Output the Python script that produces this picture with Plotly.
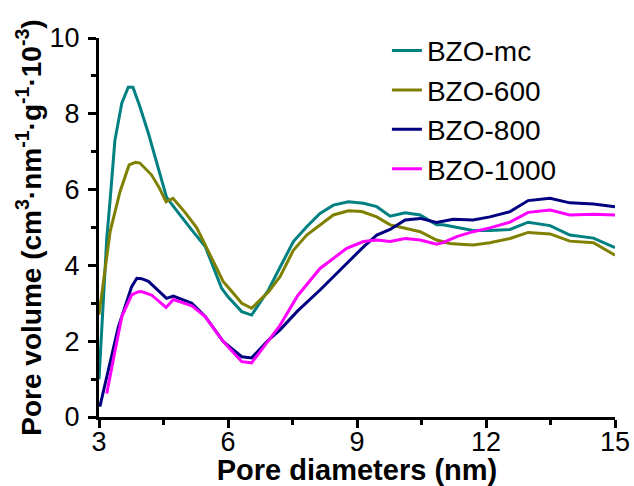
import plotly.graph_objects as go

# ---- data ----
mc_x = [3.0, 3.18, 3.26, 3.37, 3.53, 3.68, 3.79, 3.95, 4.15, 4.57, 4.77, 5.0, 5.16, 5.47, 5.85, 6.0, 6.32, 6.55, 6.94, 7.21, 7.52, 7.83, 8.14, 8.45, 8.8, 9.15, 9.46, 9.77, 10.12, 10.47, 10.85, 11.0, 11.32, 11.7, 12.09, 12.56, 12.98, 13.49, 13.95, 14.5, 15.0]
mc_y = [1.0, 4.7, 5.75, 7.3, 8.28, 8.7, 8.7, 8.19, 7.48, 5.8, 5.5, 5.15, 4.93, 4.5, 3.4, 3.17, 2.78, 2.69, 3.35, 3.95, 4.63, 5.02, 5.37, 5.59, 5.68, 5.64, 5.55, 5.3, 5.39, 5.33, 5.07, 5.07, 5.0, 4.92, 4.92, 4.95, 5.14, 5.05, 4.8, 4.72, 4.47]

s600_x = [3.0, 3.26, 3.49, 3.7, 3.85, 3.95, 4.22, 4.4, 4.56, 4.72, 5.0, 5.27, 5.47, 5.89, 6.1, 6.32, 6.55, 6.94, 7.21, 7.52, 7.83, 8.14, 8.45, 8.8, 9.11, 9.46, 9.77, 10.12, 10.47, 10.85, 11.16, 11.4, 11.7, 12.09, 12.56, 12.98, 13.49, 13.95, 14.5, 15.0]
s600_y = [2.7, 4.9, 5.95, 6.65, 6.72, 6.7, 6.39, 6.05, 5.68, 5.77, 5.4, 5.0, 4.54, 3.57, 3.3, 3.0, 2.87, 3.3, 3.7, 4.4, 4.8, 5.07, 5.33, 5.44, 5.42, 5.28, 5.07, 4.98, 4.89, 4.67, 4.58, 4.56, 4.54, 4.6, 4.71, 4.87, 4.83, 4.64, 4.6, 4.27]

s800_x = [3.02, 3.22, 3.45, 3.76, 3.88, 3.99, 4.15, 4.57, 4.73, 5.16, 5.47, 5.89, 6.32, 6.55, 6.94, 7.21, 7.62, 8.14, 8.76, 9.15, 9.46, 9.77, 10.12, 10.47, 10.85, 11.24, 11.7, 12.09, 12.56, 12.98, 13.49, 13.95, 14.5, 15.0]
s800_y = [0.27, 1.24, 2.38, 3.44, 3.66, 3.65, 3.58, 3.13, 3.19, 3.0, 2.65, 1.99, 1.59, 1.56, 2.03, 2.3, 2.8, 3.35, 4.06, 4.49, 4.8, 4.95, 5.2, 5.24, 5.13, 5.22, 5.2, 5.28, 5.42, 5.71, 5.77, 5.65, 5.62, 5.55]

s1000_x = [3.18, 3.37, 3.53, 3.76, 3.9, 3.99, 4.22, 4.56, 4.73, 5.16, 5.47, 5.89, 6.32, 6.55, 6.94, 7.21, 7.62, 8.14, 8.76, 9.15, 9.46, 9.77, 10.12, 10.47, 10.85, 11.0, 11.32, 11.7, 12.09, 12.56, 12.98, 13.49, 13.95, 14.5, 15.0]
s1000_y = [0.62, 1.77, 2.65, 3.22, 3.3, 3.31, 3.22, 2.89, 3.1, 2.93, 2.65, 1.99, 1.46, 1.43, 2.03, 2.42, 3.2, 3.92, 4.45, 4.63, 4.67, 4.63, 4.71, 4.67, 4.56, 4.6, 4.76, 4.89, 4.99, 5.14, 5.4, 5.46, 5.33, 5.35, 5.33]

names = ["BZO-mc", "BZO-600", "BZO-800", "BZO-1000"]
colors = ["#008080", "#808000", "#000080", "#FF00FF"]
xs = [mc_x, s600_x, s800_x, s1000_x]
ys = [mc_y, s600_y, s800_y, s1000_y]

x_ticks = [3, 6, 9, 12, 15]
y_ticks = [0, 2, 4, 6, 8, 10]

fig = go.Figure()
for n, c, x, y in zip(names, colors, xs, ys):
    fig.add_trace(go.Scatter(x=x, y=y, mode="lines", name=n,
                             line=dict(color=c, width=3)))

font = "Arial, Liberation Sans, sans-serif"
fig.update_layout(
    width=634, height=486,
    margin=dict(l=99, r=19, t=38, b=69, autoexpand=False),
    paper_bgcolor="white", plot_bgcolor="white",
    font=dict(family=font, color="black", size=28),
    showlegend=True,
    legend=dict(x=0.558, y=1.032, xanchor="left", yanchor="top",
                bgcolor="rgba(0,0,0,0)", font=dict(size=28),
                tracegroupgap=0),
    xaxis=dict(range=[3, 15], tickvals=x_ticks, showgrid=False, zeroline=False,
               automargin=False,
               showline=True, linecolor="black", linewidth=3,
               ticks="outside", ticklen=8, tickwidth=3, tickcolor="black",
               tickfont=dict(size=27), ticklabelstandoff=-9,
               minor=dict(dtick=1.5, tick0=3, ticks="outside", ticklen=5, tickwidth=3, tickcolor="black"),
               title=dict(text="<b>Pore diameters (nm)</b>", font=dict(size=29), standoff=12)),
    yaxis=dict(range=[0, 10], tickvals=y_ticks, showgrid=False, zeroline=False,
               automargin=False,
               showline=True, linecolor="black", linewidth=3,
               ticks="outside", ticklen=8, tickwidth=3, tickcolor="black",
               tickfont=dict(size=27), ticklabelstandoff=3,
               minor=dict(dtick=1, tick0=0, ticks="outside", ticklen=5, tickwidth=3, tickcolor="black"),
               title=dict(text="<b>Pore volume (cm<sup>3</sup>·nm<sup>-1</sup>·g<sup>-1</sup>·10<sup>-3</sup>)</b>",
                          font=dict(size=28), standoff=0)),
)

fig.write_html("out.html")
